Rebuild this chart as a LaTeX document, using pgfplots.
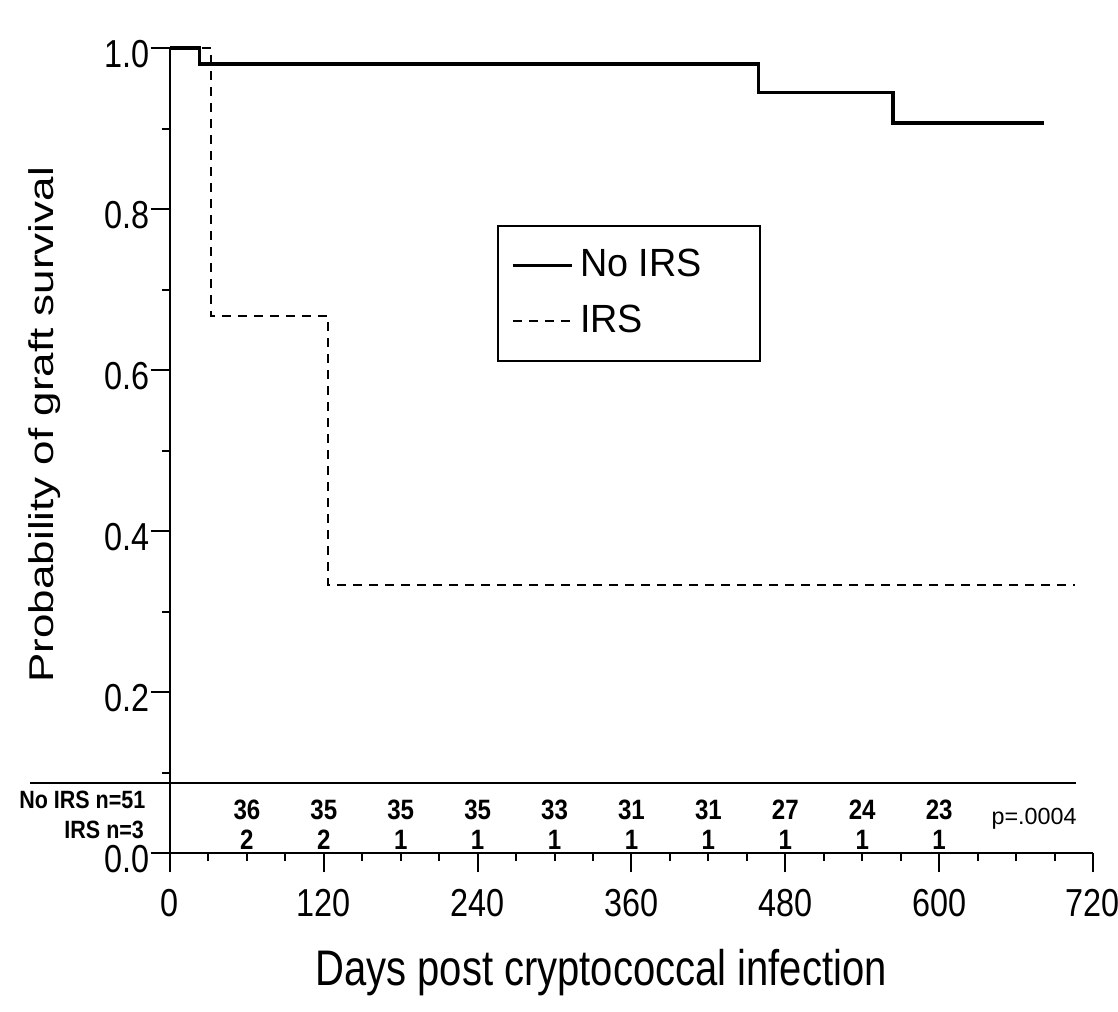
\documentclass[border=0pt]{standalone}
\usepackage{fontspec}
\setmainfont{Liberation Sans}
\newfontfamily\narrowfont{Liberation Sans}[FakeStretch=0.83]
\newfontfamily\xlabfont{Liberation Sans}[FakeStretch=0.8]
\newfontfamily\ylabfont{Liberation Sans}[FakeStretch=1.28]
\newfontfamily\riskfont{Liberation Sans}[FakeStretch=0.86]
\newfontfamily\legendfont{Liberation Sans}[FakeStretch=0.96]
\usepackage{pgfplots}
\pgfplotsset{compat=1.18}
\usepackage{pgfplotstable}

% number at risk
\pgfplotstableread{
day noirs irs ya yb
60  36 2 0.054 0.016
120 35 2 0.054 0.016
180 35 1 0.054 0.016
240 35 1 0.054 0.016
300 33 1 0.054 0.016
360 31 1 0.054 0.016
420 31 1 0.054 0.016
480 27 1 0.054 0.016
540 24 1 0.054 0.016
600 23 1 0.054 0.016
}\risktab

\begin{document}
\begin{tikzpicture}
\useasboundingbox (-51pt,-47.4pt) rectangle (284.4pt,255.9pt);
\begin{axis}[
    scale only axis,
    width=276.9pt, height=241.5pt,
    xmin=0, xmax=720, ymin=0, ymax=1,
    axis x line*=bottom, axis y line*=left,
    axis line style={line width=0.6pt, -},
    xtick={0,120,...,720}, xticklabels={0,120,240,360,480,600,720},
    minor x tick num=3,
    ytick={0,0.2,0.4,0.6,0.8,1}, yticklabels={0.0,0.2,0.4,0.6,0.8,1.0},
    minor y tick num=1,
    tick align=outside,
    major tick length=5.8pt, minor tick length=2.4pt,
    tick style={line width=0.6pt, black},
    tick label style={font=\fontsize{11.7}{13}\narrowfont},
    yticklabel style={inner sep=0pt, yshift=-1.8pt},
    xticklabel style={inner sep=0pt, yshift=-5pt},
    clip=false,
    xlabel={Days post cryptococcal infection},
    ylabel={Probability of graft survival},
    xlabel style={at={(axis description cs:0.467,-0.164)}, anchor=base, font=\fontsize{15}{16}\xlabfont},
    ylabel style={at={(axis description cs:-0.1354,0.532)}, anchor=center, font=\fontsize{10.3}{12}\ylabfont},
    legend style={at={(axis cs:255,0.78)}, anchor=north west, draw=black, line width=0.6pt,
        font=\fontsize{11.8}{13}\legendfont, inner xsep=4pt, inner ysep=5pt, row sep=3pt, fill=white},
    legend cell align=left,
    legend image code/.code={\draw[#1] (0pt,0pt) -- (17.7pt,0pt);},
]
\addplot[const plot, line width=1pt, black] coordinates {(0,1) (23,0.98) (459,0.945) (564,0.907) (682,0.907)};
\addlegendentry{No IRS\hspace*{11.4pt}}
\addplot[const plot, line width=0.6pt, black, dash pattern=on 2.6pt off 2.2pt] coordinates {(0,1) (32,0.667) (123,0.333) (706,0.333)};
\addlegendentry{IRS}

% separator above the number-at-risk rows
\addplot[black, line width=0.6pt, forget plot] coordinates {(-109,0.087) (707,0.087)};

\addplot[draw=none, mark=none, forget plot, nodes near coords, point meta=explicit symbolic,
    every node near coord/.append style={anchor=center, inner sep=0pt, font=\fontsize{8.4}{9}\riskfont\bfseries}]
    table[x=day, y=ya, meta=noirs] {\risktab};
\addplot[draw=none, mark=none, forget plot, nodes near coords, point meta=explicit symbolic,
    every node near coord/.append style={anchor=center, inner sep=0pt, font=\fontsize{8.4}{9}\riskfont\bfseries}]
    table[x=day, y=yb, meta=irs] {\risktab};

\node[anchor=east, inner sep=0pt, font=\fontsize{7.5}{8}\riskfont\bfseries] at (axis cs:-18.7,0.066) {No IRS n=51};
\node[anchor=east, inner sep=0pt, font=\fontsize{7.5}{8}\riskfont\bfseries] at (axis cs:-19.8,0.0286) {IRS n=3};
\node[inner sep=0pt, font=\fontsize{7}{8}\selectfont] at (axis cs:674,0.042) {p=.0004};
\end{axis}
\end{tikzpicture}
\end{document}
